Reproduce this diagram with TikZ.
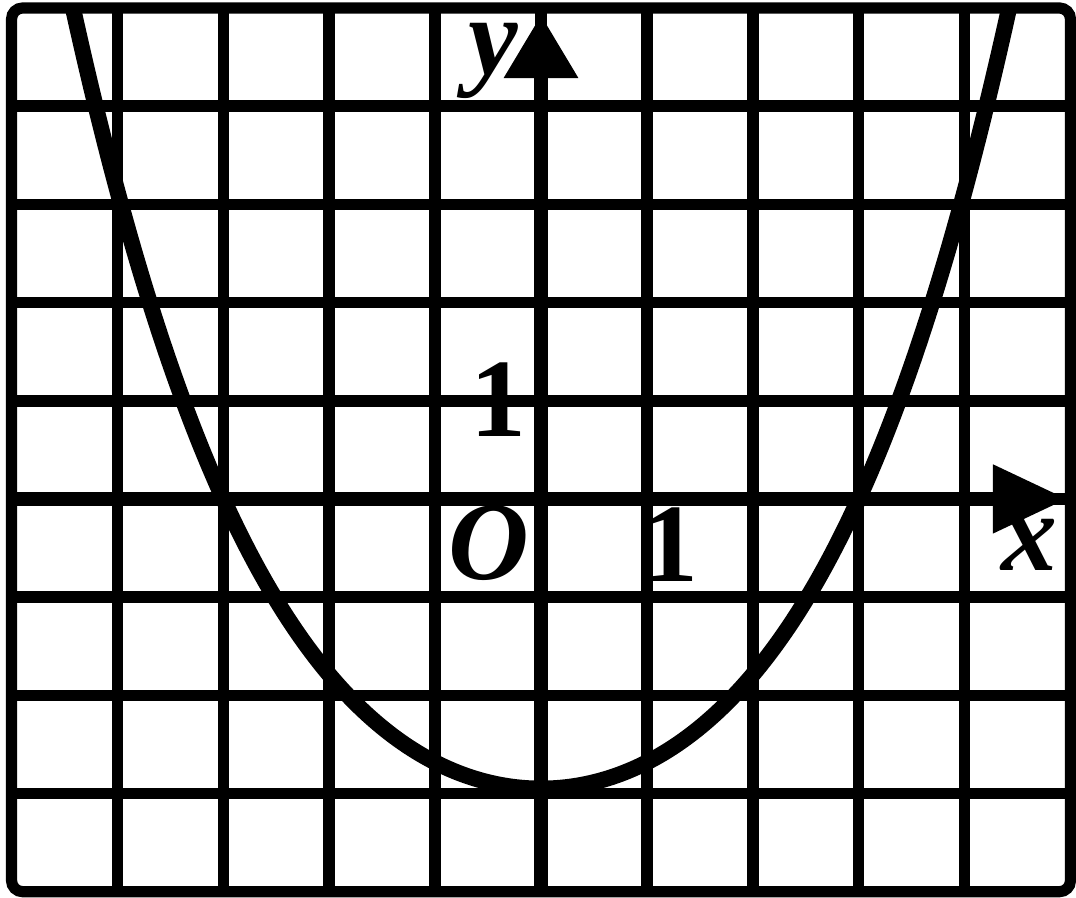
\documentclass[tikz,border=0pt]{standalone}
\usepackage{fontspec}
\setmainfont{Liberation Serif}
\usetikzlibrary{arrows.meta}
\begin{document}
\begin{tikzpicture}[x=1cm,y=0.9273cm,
  gridline/.style={line width=3.1pt},
  frameline/.style={line width=3pt, rounded corners=3pt},
  axisline/.style={line width=3.8pt},
  curveline/.style={line width=4.3pt, line cap=round, line join=round},
  lab/.style={inner sep=0pt, font=\fontsize{30}{36}\selectfont\bfseries}]
\useasboundingbox (-5.109,-4.063) rectangle (5.052,5.081);
\fill[white] (-5.109,-4.063) rectangle (5.052,5.081);
\foreach \i in {-4,...,4} \draw[gridline] (\i,-4) -- (\i,5);
\foreach \j in {-3,...,4} \draw[gridline] (-5,\j) -- (5,\j);
\draw[frameline] (-5,-4) rectangle (5,5);
\begin{scope}
\clip (-5,-4) rectangle (5,5);
\draw[curveline] plot[domain=-4.7:4.7, samples=121, smooth]
  (\x, {0.00751*\x*\x*\x*\x + 0.2602*\x*\x - 2.95});
\end{scope}
\coordinate (xs) at (-5,0);
\coordinate (xe) at (4.97,0);
\coordinate (ys) at (0,-4);
\coordinate (ye) at (0,4.93);
\draw[axisline, -{Triangle[length=20pt,width=17.5pt]}] (xs) -- (xe);
\draw[axisline, -{Triangle[length=17pt,width=19pt]}] (ys) -- (ye);
\node[lab] (ylab) at (-0.45,4.46) {\itshape y};
\node[lab] (yone) at (-0.40,1.01) {1};
\node[lab] (orig) at (-0.49,-0.45) {\itshape O};
\node[lab] (xone) at (1.22,-0.47) {1};
\node[lab] (xlab) at (4.61,-0.47) {\itshape x};
\end{tikzpicture}
\end{document}
